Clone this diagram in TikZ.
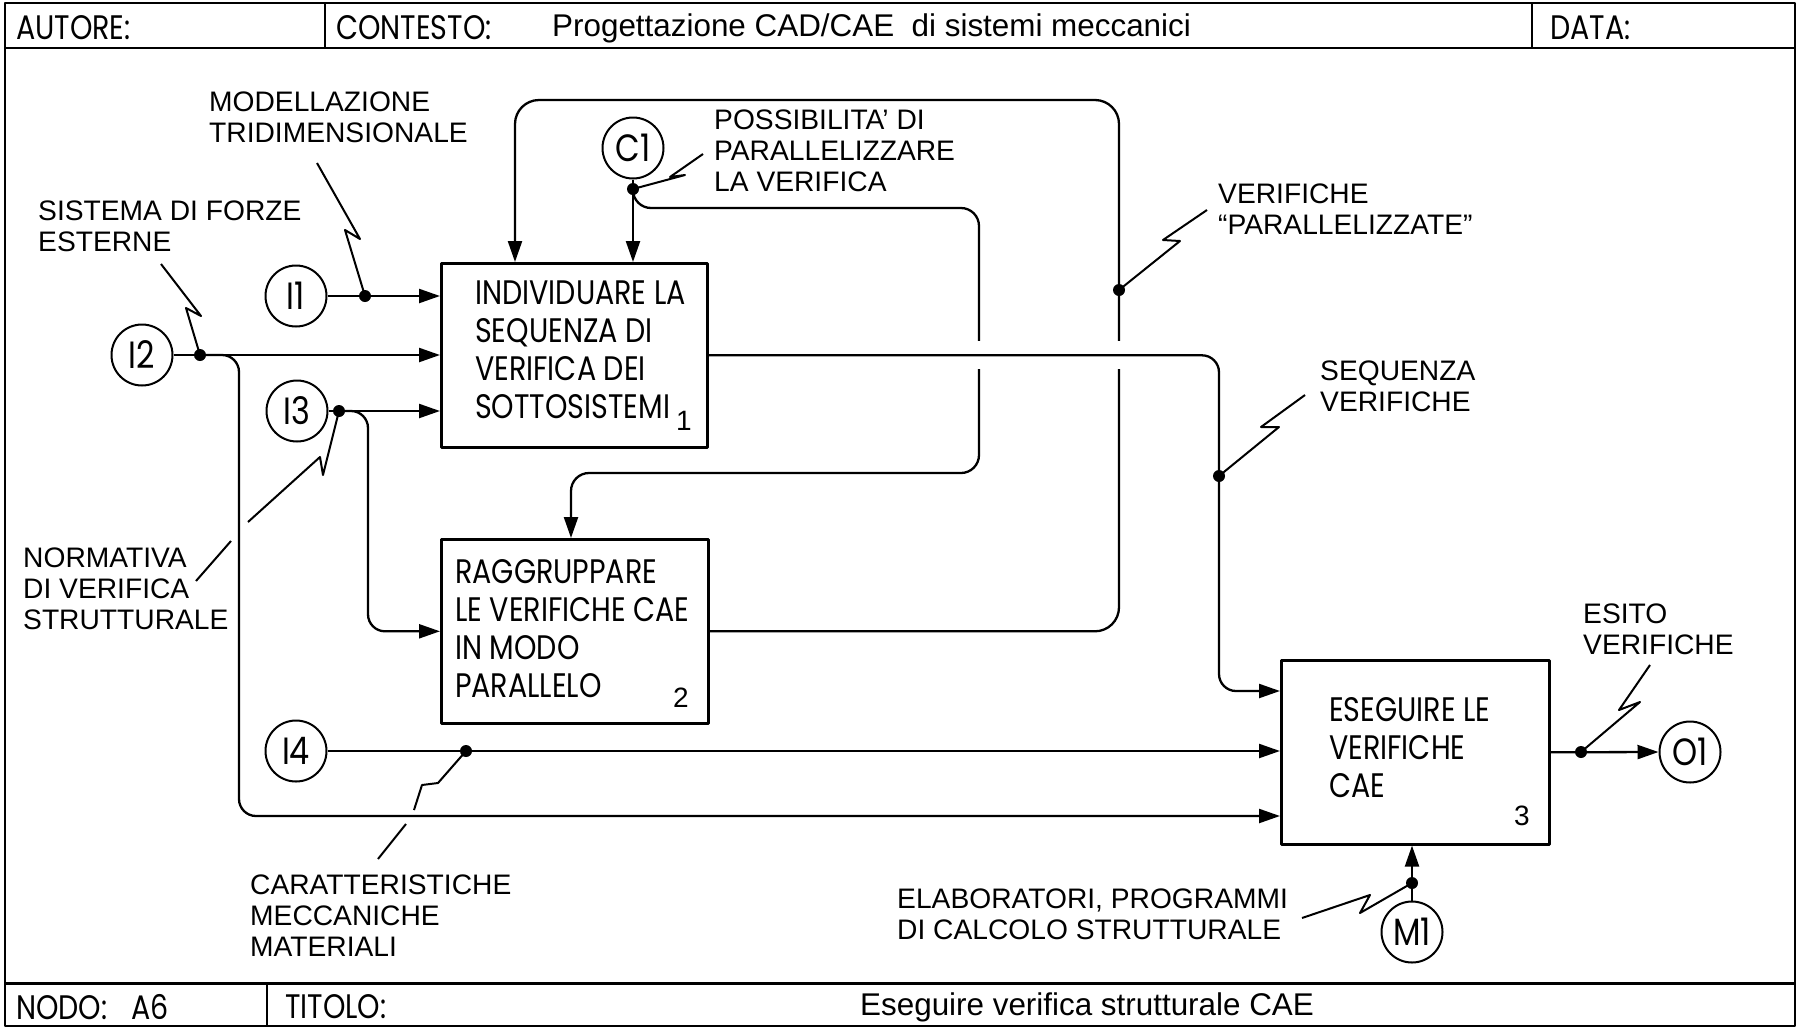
\documentclass[tikz,border=0pt]{standalone}
\usepackage{fontspec}
\setmainfont{Liberation Sans}
\newfontfamily\geo[FakeStretch=0.84]{Poppins}
\usetikzlibrary{arrows.meta,calc}

\begin{document}
\begin{tikzpicture}[x=1pt,y=-1pt,line join=round,
  wire/.style={line width=2.3pt},
  arr/.style={wire,-{Triangle[length=21pt,width=14pt]}},
  actbox/.style={draw,line width=2.6pt,rectangle,inner sep=0pt,anchor=north west},
  port/.style={draw,circle,line width=2pt,minimum size=61pt,inner sep=0pt,
    font=\geo\fontsize{38}{40}\selectfont},
  jdot/.style={circle,fill,inner sep=0pt,minimum size=12pt},
  bolt/.style={line width=2pt},
  lbl/.style={align=left,anchor=west,inner sep=0pt,font=\fontsize{28.2}{31}\selectfont},
  boxtxt/.style={align=left,anchor=west,inner sep=0pt,font=\geo\fontsize{34}{38}\selectfont},
  num/.style={inner sep=0pt,font=\fontsize{28}{28}\selectfont},
  hdr/.style={anchor=west,inner sep=0pt,font=\geo\fontsize{34}{36}\selectfont},
  ttl/.style={anchor=west,inner sep=0pt,font=\fontsize{31.4}{34}\selectfont},
  gapmask/.style={white,line width=9pt}]

\useasboundingbox (0,0) rectangle (1800,1029);

% sheet frame with header and footer strips
\draw[line width=2.5pt] (5,3) rectangle (1795,1026);
\draw[line width=2.2pt] (5,48) -- (1795,48);
\draw[line width=3pt] (5,983) -- (1795,983);
\draw[line width=2.2pt] (325,3) -- (325,48);
\draw[line width=2.2pt] (1532,3) -- (1532,48);
\draw[line width=2.2pt] (267,983) -- (267,1026);

\node[hdr] (autore) at (16,28) {AUTORE:};
\node[hdr] (contesto) at (336,28) {CONTESTO:};
\node[ttl] (contestotxt) at (552,28) {Progettazione CAD/CAE\ \ di sistemi meccanici};
\node[hdr] (data) at (1550,28) {DATA:};
\node[hdr] (nodo) at (16,1007) {NODO:\hspace{24pt}A6};
\node[hdr] (titolo) at (285,1007) {TITOLO:};
\node[ttl] (titolotxt) at (860,1007) {Eseguire verifica strutturale CAE};

% activity boxes
\node[actbox,minimum width=266pt,minimum height=184pt] (b1) at (440,262) {};
\node[actbox,minimum width=267pt,minimum height=184pt] (b2) at (440,538) {};
\node[actbox,minimum width=268pt,minimum height=184pt] (b3) at (1280,659) {};

\node[boxtxt] (b1txt) at (475,349.5) {INDIVIDUARE LA\\SEQUENZA DI\\VERIFICA DEI\\SOTTOSISTEMI};
\node[boxtxt] (b2txt) at (455,628.5) {RAGGRUPPARE\\LE VERIFICHE CAE\\IN MODO\\PARALLELO};
\node[boxtxt] (b3txt) at (1329,747.4) {ESEGUIRE LE\\VERIFICHE\\CAE};
\node[num] (n1) at (684,421) {1};
\node[num] (n2) at (681,698) {2};
\node[num] (n3) at (1522,816) {3};

% boundary ports
\node[port] (I1) at (296,296) {I1};
\node[port] (I2) at (142,355) {I2};
\node[port] (I3) at (297,411) {I3};
\node[port] (I4) at (296,751) {I4};
\node[port] (C1) at (633,148) {C1};
\node[port] (O1) at (1690,752) {O1};
\node[port] (M1) at (1412,932) {M1};

% bend points of the routed arrows
\coordinate (cI2) at (239,816);
\coordinate (cI3) at (368,631);
\coordinate (kC1) at (979,208);
\coordinate (kC2) at (571,473);
\coordinate (kL1) at (1119,100);
\coordinate (kL2) at (515,100);
\coordinate (kS) at (1219,691);

% straight arrows
\draw[arr] (I1.east) -- (I1.east -| b1.west);
\draw[arr] (I2.east) -- (I2.east -| b1.west);
\draw[arr] (I3.east) -- (I3.east -| b1.west);
\draw[arr] (I4.east) -- (I4.east -| b3.west);
\draw[arr] (C1.south) -- (C1.south |- b1.north);
\draw[arr] (b3.east) -- (O1.west);
\draw[arr] (M1.north) -- (M1.north |- b3.south);

% junction dots
\node[jdot] (dI1) at (365,296) {};
\node[jdot] (dI2) at (200,355) {};
\node[jdot] (dI3) at (339,411) {};
\node[jdot] (dI4) at (466,751) {};
\node[jdot] (dC1) at (633,189) {};
\node[jdot] (dV) at (1119,290) {};
\node[jdot] (dS) at (1219,476) {};
\node[jdot] (dO) at (1581,752) {};
\node[jdot] (dM) at (1412,883) {};

% branched and looped arrows
\draw[arr,rounded corners=17pt] (dI2.center) -| (cI2) -- (cI2 -| b3.west);
\draw[arr,rounded corners=17pt] (dI3.center) -| (cI3 |- b2.west) -- (b2.west);
\draw[arr,rounded corners=18pt] (dC1.center) |- (kC1) |- (kC2) -- (kC2 |- b2.north);
\draw[arr,rounded corners=24pt] (b2.east) -| (kL1) -- (kL2) -- (kL2 |- b1.north);

% crossing gaps, then the output of box 1 over them
\coordinate (gA) at (kC1 |- b1.east);
\coordinate (gB) at (kL1 |- b1.east);
\foreach \g in {gA,gB}
  \draw[gapmask] ($(\g)+(0,-14)$) -- ($(\g)+(0,14)$);
\draw[arr,rounded corners=17pt] (b1.east) -| (kS) -- (kS -| b3.west);

% labels with their squiggle leaders
\node[lbl] (lmod) at (209,117.5) {MODELLAZIONE\\TRIDIMENSIONALE};
\draw[bolt] (317,163) -- (360,239) -- (345,230) -- (dI1.center);

\node[lbl] (lsis) at (38,226) {SISTEMA DI FORZE\\ESTERNE};
\draw[bolt] (161,264) -- (201,316) -- (186,308) -- (dI2.center);

\node[lbl] (lnorm) at (23,589) {NORMATIVA\\DI VERIFICA\\STRUTTURALE};
\draw[bolt] (196,581) -- (231,541);
\draw[bolt] (248,522) -- (320,457) -- (323,475) -- (dI3.center);

\node[lbl] (lposs) at (714,150.8) {POSSIBILITA' DI\\PARALLELIZZARE\\LA VERIFICA};
\draw[bolt] (703,154) -- (670,177) -- (685,175) -- (dC1.center);

\node[lbl] (lver) at (1218,209) {VERIFICHE\\“PARALLELIZZATE”};
\draw[bolt] (1207,210) -- (1163,240) -- (1180,241) -- (dV.center);

\node[lbl] (lseq) at (1320,386.5) {SEQUENZA\\VERIFICHE};
\draw[bolt] (1305,395) -- (1261,427) -- (1279,427) -- (dS.center);

\node[lbl] (lcar) at (250,915.5) {CARATTERISTICHE\\MECCANICHE\\MATERIALI};
\draw[bolt] (378,859) -- (406,824);
\draw[bolt] (414,810) -- (422,785) -- (438,783) -- (dI4.center);

\node[lbl] (lesito) at (1583,629.5) {ESITO\\VERIFICHE};
\draw[bolt] (1650,665) -- (1619,710) -- (1640,702) -- (dO.center);

\node[lbl] (lelab) at (897,914.5) {ELABORATORI, PROGRAMMI\\DI CALCOLO STRUTTURALE};
\draw[bolt] (1302,918) -- (1370,895) -- (1360,913) -- (dM.center);

\end{tikzpicture}
\end{document}
